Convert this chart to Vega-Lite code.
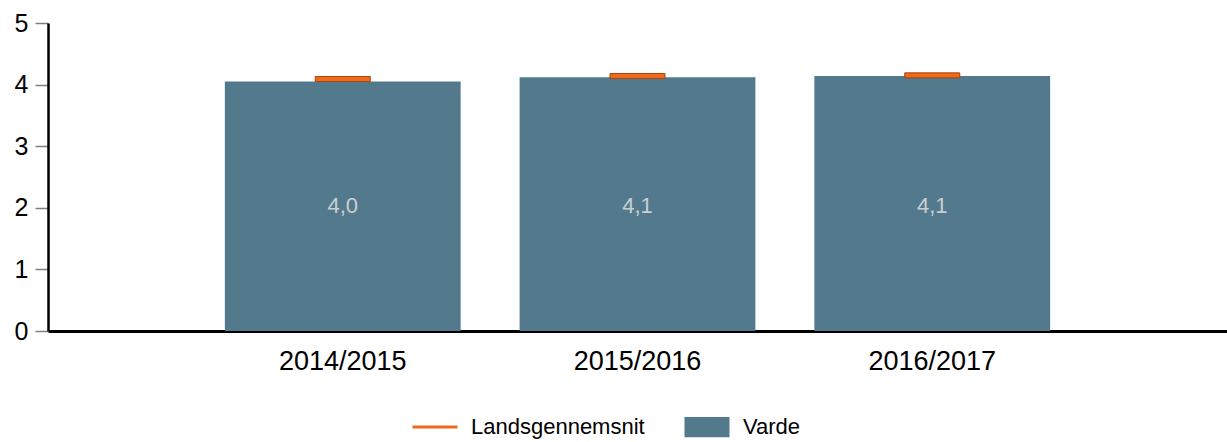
{
  "$schema": "https://vega.github.io/schema/vega-lite/v6.json",
  "width": 1179,
  "height": 308,
  "autosize": {"type": "none"},
  "padding": {"left": 48, "top": 23, "right": 0, "bottom": 111},
  "background": "white",
  "config": {
    "view": {"stroke": null},
    "font": "Liberation Sans",
    "locale": {"number": {"decimal": ",", "thousands": ".", "grouping": [3], "currency": ["", " kr"]}}
  },
  "data": {
    "values": [
      {"year": "2014/2015", "series": "Varde", "value": 4.05, "avg": 4.09},
      {"year": "2015/2016", "series": "Varde", "value": 4.12, "avg": 4.14},
      {"year": "2016/2017", "series": "Varde", "value": 4.14, "avg": 4.15}
    ]
  },
  "encoding": {
    "x": {
      "field": "year",
      "type": "nominal",
      "sort": null,
      "scale": {"paddingInner": 0.2, "paddingOuter": 0.6},
      "axis": {
        "title": null,
        "labelAngle": 0,
        "labelFontSize": 27,
        "labelColor": "#000000",
        "labelPadding": 17,
        "ticks": false,
        "domainColor": "#000000",
        "domainWidth": 3,
        "grid": false
      }
    }
  },
  "layer": [
    {
      "mark": {"type": "bar", "color": "#537A8C"},
      "encoding": {
        "y": {
          "field": "value",
          "type": "quantitative",
          "scale": {"domain": [0, 5], "nice": false},
          "axis": {
            "title": null,
            "values": [0, 1, 2, 3, 4, 5],
            "format": "d",
            "labelFontSize": 25,
            "labelColor": "#000000",
            "labelPadding": 7,
            "tickSize": 13,
            "tickColor": "#808080",
            "tickWidth": 1.5,
            "domainColor": "#000000",
            "domainWidth": 2.5,
            "grid": false
          }
        },
        "fill": {
          "field": "series",
          "type": "nominal",
          "scale": {"domain": ["Landsgennemsnit", "Varde"], "range": ["#EE6A1E", "#537A8C"]},
          "legend": {
            "title": null,
            "orient": "none",
            "legendX": 363,
            "legendY": 380,
            "direction": "horizontal",
            "labelFontSize": 22,
            "labelColor": "#000000",
            "labelOffset": 12,
            "labelLimit": 400,
            "columnPadding": 38,
            "symbolSize": 2025,
            "symbolOpacity": 1,
            "encode": {
              "symbols": {
                "update": {
                  "shape": {"signal": "datum.value === 'Landsgennemsnit' ? 'M-1,0H1' : 'M-1,-0.45H1V0.45H-1Z'"},
                  "stroke": {"signal": "datum.value === 'Landsgennemsnit' ? '#EE6A1E' : null"},
                  "strokeWidth": {"value": 3},
                  "fill": {"signal": "datum.value === 'Landsgennemsnit' ? null : '#537A8C'"}
                }
              }
            }
          }
        }
      }
    },
    {
      "mark": {"type": "tick", "color": "#F06A1C", "stroke": "#A9420F", "strokeWidth": 1, "thickness": 5, "size": 55, "opacity": 1},
      "encoding": {
        "y": {"field": "avg", "type": "quantitative"}
      }
    },
    {
      "mark": {"type": "text", "fontSize": 22, "color": "#C9CFD3", "baseline": "middle"},
      "encoding": {
        "y": {"datum": 2.03, "type": "quantitative"},
        "text": {"field": "value", "type": "quantitative", "format": ".1f"}
      }
    }
  ]
}
